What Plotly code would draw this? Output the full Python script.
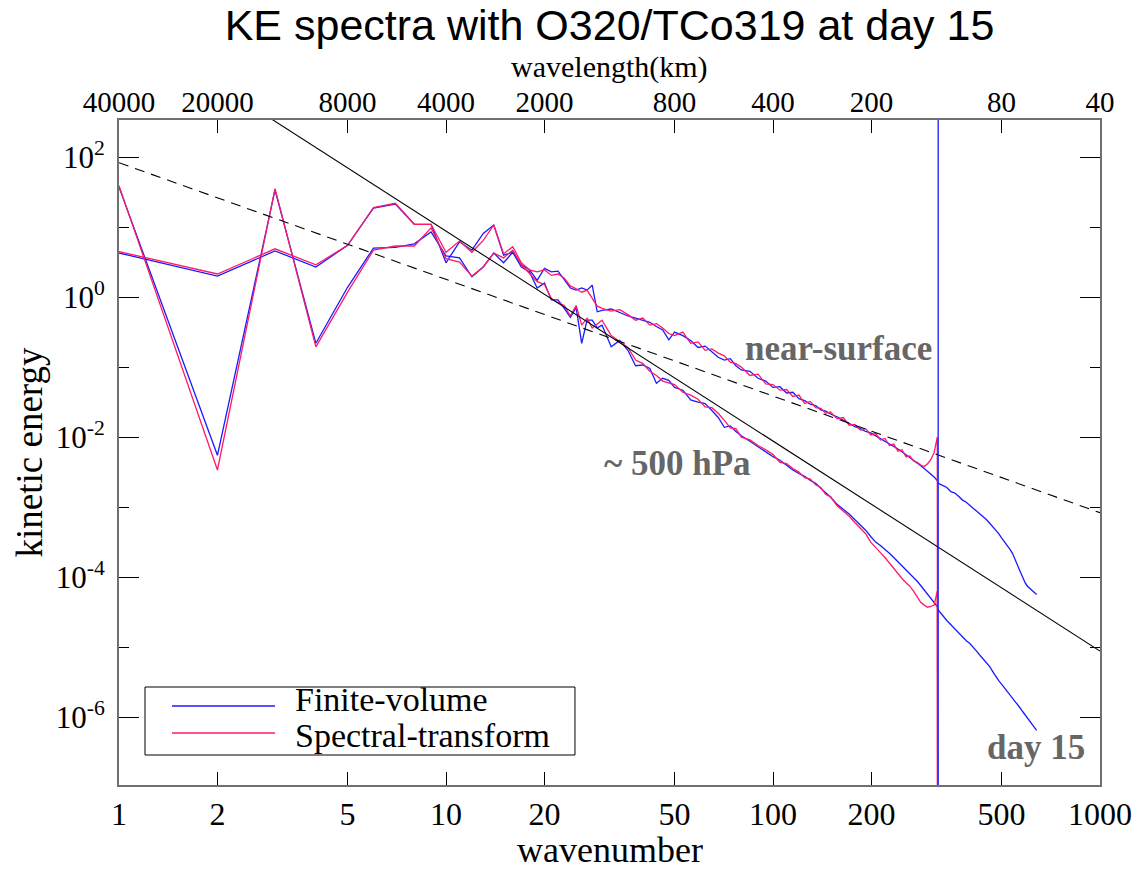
import numpy as np
import plotly.graph_objects as go

# ---------------- data (energies as log10) ----------------
k_main = [1, 2, 3, 4, 5, 6, 7, 8, 9, 10,
          11, 12, 13, 14, 15, 16, 17, 18, 19, 20,
          21, 22, 23, 24, 25, 26, 27, 28, 29, 30,
          32, 34, 36, 38, 40, 42, 44, 46, 48, 50,
          53, 56, 59, 62, 65, 68, 71, 74, 77, 80,
          85, 90, 95, 100, 105, 110, 115, 120, 125, 130, 135, 140, 145, 150,
          157, 164, 171, 178, 185, 192, 199, 206, 213, 220, 227, 234, 241, 248,
          255, 262, 269, 276, 283, 290, 297, 304, 311, 318]

k_fv_tail = [320, 330, 340, 350, 360, 370, 380, 390, 400, 410, 420,
             430, 440, 450, 460, 470, 480, 490, 500, 510, 520, 530,
             540, 550, 560, 570, 580, 590, 600, 610, 620, 630, 640]

# near-surface, finite-volume
near_fv_log10 = [0.63, 0.30, 0.66, 0.43, 0.74, 1.27, 1.33, 1.04, 1.04, 0.49,
                 0.79, 0.67, 0.91, 1.03, 0.60, 0.64, 0.46, 0.39, 0.24, 0.41,
                 0.36, 0.37, 0.25, 0.13, 0.10, 0.13, 0.10, 0.17, -0.21, -0.19,
                 -0.17, -0.22, -0.27, -0.30, -0.33, -0.36, -0.42, -0.47, -0.61, -0.50,
                 -0.55, -0.62, -0.72, -0.70, -0.78, -0.86, -0.90, -0.88, -0.98, -1.04,
                 -1.06, -1.16, -1.20, -1.29, -1.28, -1.37, -1.36, -1.45, -1.48, -1.53, -1.55, -1.61, -1.63, -1.67,
                 -1.71, -1.76, -1.80, -1.85, -1.88, -1.92, -1.94, -1.98, -2.02, -2.06, -2.09, -2.13, -2.17, -2.21,
                 -2.25, -2.29, -2.33, -2.37, -2.41, -2.45, -2.49, -2.53, -2.57, -2.62]
near_fv_tail_log10 = [-2.66, -2.69, -2.72, -2.78, -2.80, -2.85, -2.90, -2.93, -2.98, -3.02, -3.06,
                      -3.10, -3.14, -3.18, -3.23, -3.28, -3.33, -3.38, -3.44, -3.49, -3.55, -3.60,
                      -3.66, -3.74, -3.83, -3.92, -4.00, -4.08, -4.13, -4.16, -4.19, -4.22, -4.25]

# near-surface, spectral-transform
near_st_log10 = [0.65, 0.33, 0.69, 0.46, 0.74, 1.28, 1.34, 1.04, 1.04, 0.64,
                 0.80, 0.64, 0.81, 1.03, 0.62, 0.72, 0.49, 0.39, 0.36, 0.39,
                 0.31, 0.33, 0.27, 0.16, 0.12, 0.07, 0.10, -0.01, -0.13, -0.16,
                 -0.20, -0.18, -0.25, -0.33, -0.30, -0.40, -0.38, -0.44, -0.52, -0.55,
                 -0.50, -0.66, -0.64, -0.76, -0.74, -0.80, -0.84, -0.93, -0.95, -1.00,
                 -1.12, -1.10, -1.24, -1.25, -1.33, -1.32, -1.42, -1.40, -1.52, -1.49, -1.58, -1.59, -1.66, -1.64,
                 -1.74, -1.72, -1.83, -1.82, -1.90, -1.88, -1.97, -1.95, -2.04, -2.02, -2.12, -2.10, -2.20, -2.18,
                 -2.28, -2.27, -2.34, -2.36, -2.40, -2.42, -2.38, -2.32, -2.22, -2.00]

# ~500 hPa, finite-volume
mid_fv_log10 = [1.57, -2.26, 1.53, -0.66, 0.14, 0.70, 0.71, 0.76, 0.93, 0.59,
                0.56, 0.29, 0.43, 0.63, 0.49, 0.64, 0.43, 0.36, 0.13, 0.20,
                -0.04, -0.04, -0.16, -0.29, -0.15, -0.66, -0.33, -0.33, -0.44, -0.40,
                -0.71, -0.62, -0.76, -0.98, -0.97, -1.02, -1.23, -1.16, -1.19, -1.29,
                -1.33, -1.47, -1.50, -1.52, -1.62, -1.72, -1.86, -1.84, -1.92, -1.98,
                -2.06, -2.14, -2.21, -2.28, -2.33, -2.40, -2.47, -2.52, -2.56, -2.62, -2.66, -2.73, -2.79, -2.86,
                -2.96, -3.03, -3.10, -3.18, -3.25, -3.33, -3.42, -3.50, -3.55, -3.60, -3.66, -3.72, -3.78, -3.84,
                -3.89, -3.94, -4.00, -4.06, -4.12, -4.18, -4.24, -4.30, -4.36, -4.42]
mid_fv_tail_log10 = [-4.47, -4.55, -4.62, -4.68, -4.74, -4.80, -4.86, -4.91, -4.95, -5.00, -5.06,
                     -5.12, -5.17, -5.22, -5.28, -5.35, -5.42, -5.48, -5.53, -5.58, -5.63, -5.68,
                     -5.72, -5.77, -5.82, -5.87, -5.92, -5.97, -6.02, -6.06, -6.10, -6.15, -6.19]

# ~500 hPa, spectral-transform
mid_st_log10 = [1.59, -2.47, 1.55, -0.71, 0.07, 0.67, 0.73, 0.73, 0.99, 0.55,
                0.50, 0.30, 0.43, 0.63, 0.56, 0.67, 0.46, 0.34, 0.22, 0.18,
                -0.02, -0.08, -0.12, -0.27, -0.12, -0.40, -0.30, -0.44, -0.38, -0.33,
                -0.55, -0.64, -0.72, -0.90, -0.95, -1.06, -1.12, -1.20, -1.23, -1.25,
                -1.36, -1.40, -1.46, -1.57, -1.58, -1.66, -1.76, -1.87, -1.88, -2.00,
                -2.04, -2.12, -2.18, -2.25, -2.36, -2.38, -2.45, -2.50, -2.58, -2.60, -2.68, -2.72, -2.82, -2.85,
                -2.98, -3.05, -3.13, -3.22, -3.30, -3.38, -3.50, -3.57, -3.65, -3.72, -3.80, -3.88, -3.95, -4.02,
                -4.08, -4.13, -4.20, -4.28, -4.36, -4.40, -4.43, -4.42, -4.40, -4.20]

# spectral-transform truncation (spectrum drops to ~0 past its last wavenumber)
st_trunc_k = 319
st_trunc_log10 = -12.0
fv_trunc_k = 320

# reference power laws
ref_k = [1, 1000]
k3_log10_coef = 3.943      # E = C k^-3
k53_log10_coef = 1.92      # E = C k^-5/3

bottom_ticks = [1, 2, 5, 10, 20, 50, 100, 200, 500, 1000]
bottom_labels = ["1", "2", "5", "10", "20", "50", "100", "200", "500", "1000"]
top_labels = ["40000", "20000", "8000", "4000", "2000", "800", "400", "200", "80", "40"]
y_major = [1e2, 1e0, 1e-2, 1e-4, 1e-6]
y_major_labels = ["10<sup>2</sup>", "10<sup>0</sup>", "10<sup>-2</sup>", "10<sup>-4</sup>", "10<sup>-6</sup>"]
y_minor = [1e1, 1e-1, 1e-3, 1e-5]

BLUE = "#1a1aff"
RED = "#ff1a66"
SERIF = "Liberation Serif"

# plot-area geometry (pixels) used to place paper-referenced texts
PX_TOP, PX_BOTTOM = 120, 785


def py(ypix):
    return (PX_BOTTOM - ypix) / (PX_BOTTOM - PX_TOP)


def to_e(lst):
    return list(10 ** np.array(lst, dtype=float))


fig = go.Figure()

kfv = k_main + k_fv_tail
kst = k_main + [st_trunc_k]

fig.add_trace(go.Scatter(x=kfv, y=to_e(near_fv_log10 + near_fv_tail_log10), mode="lines",
                         line=dict(color=BLUE, width=1.3), name="Finite-volume", showlegend=False))
fig.add_trace(go.Scatter(x=kfv, y=to_e(mid_fv_log10 + mid_fv_tail_log10), mode="lines",
                         line=dict(color=BLUE, width=1.3), name="Finite-volume", showlegend=False))
fig.add_trace(go.Scatter(x=kst, y=to_e(near_st_log10 + [st_trunc_log10]), mode="lines",
                         line=dict(color=RED, width=1.3), name="Spectral-transform", showlegend=False))
fig.add_trace(go.Scatter(x=kst, y=to_e(mid_st_log10 + [st_trunc_log10]), mode="lines",
                         line=dict(color=RED, width=1.3), name="Spectral-transform", showlegend=False))

rk = np.array(ref_k, dtype=float)
fig.add_trace(go.Scatter(x=ref_k, y=list(10 ** (k3_log10_coef - 3 * np.log10(rk))), mode="lines",
                         line=dict(color="black", width=1.1), showlegend=False, hoverinfo="skip"))
fig.add_trace(go.Scatter(x=ref_k, y=list(10 ** (k53_log10_coef - 5 / 3 * np.log10(rk))), mode="lines",
                         line=dict(color="black", width=1.1, dash="10px,7px"), showlegend=False, hoverinfo="skip"))
# top (wavelength) axis carrier
fig.add_trace(go.Scatter(x=[], y=[], xaxis="x2", showlegend=False))

# truncation marker
fig.add_shape(type="line", xref="x", yref="paper", x0=fv_trunc_k, x1=fv_trunc_k, y0=0, y1=1,
              line=dict(color=BLUE, width=1.3), layer="above")

# legend drawn as a box
fig.add_shape(type="rect", xref="paper", yref="paper", x0=0.0265, x1=0.4648, y0=py(755), y1=py(687),
              line=dict(color="black", width=1), fillcolor="white", layer="above")
fig.add_shape(type="line", xref="paper", yref="paper", x0=0.054, x1=0.159, y0=py(706), y1=py(706),
              line=dict(color=BLUE, width=1.3), layer="above")
fig.add_shape(type="line", xref="paper", yref="paper", x0=0.054, x1=0.159, y0=py(733), y1=py(733),
              line=dict(color=RED, width=1.3), layer="above")
leg_font = dict(family=SERIF, size=34, color="black")
fig.add_annotation(xref="paper", yref="paper", x=0.1774, y=py(699), text="Finite-volume",
                   showarrow=False, xanchor="left", yanchor="middle", font=leg_font)
fig.add_annotation(xref="paper", yref="paper", x=0.1774, y=py(735), text="Spectral-transform",
                   showarrow=False, xanchor="left", yanchor="middle", font=leg_font)

lab_font = dict(family=SERIF, size=35, color="#666666")
fig.add_annotation(x=2.199, y=-0.729, xref="x", yref="y", text="<b>near-surface</b>", showarrow=False, font=lab_font)
fig.add_annotation(x=1.709, y=-2.371, xref="x", yref="y", text="<b>~ 500 hPa</b>", showarrow=False, font=lab_font)
fig.add_annotation(x=2.804, y=-6.43, xref="x", yref="y", text="<b>day 15</b>", showarrow=False, font=lab_font)

# axis titles
fig.add_annotation(xref="paper", yref="paper", x=0.5, y=py(850), text="wavenumber", showarrow=False,
                   xanchor="center", yanchor="middle", font=dict(family=SERIF, size=36, color="black"))
fig.add_annotation(xref="paper", yref="paper", x=0.5, y=py(67), text="wavelength(km)", showarrow=False,
                   xanchor="center", yanchor="middle", font=dict(family=SERIF, size=30, color="black"))

axis_line = "#707070"
fig.update_layout(
    width=1137, height=870,
    margin=dict(l=119, r=37, t=120, b=85),
    paper_bgcolor="white", plot_bgcolor="white",
    title=dict(text="KE spectra with O320/TCo319 at day 15", x=0.5, xref="paper", xanchor="center",
               y=1 - 25 / 870, yref="container", yanchor="middle",
               font=dict(family="Liberation Sans", size=43, color="black")),
    xaxis=dict(type="log", range=[0, 3], tickmode="array", tickvals=bottom_ticks, ticktext=bottom_labels,
               ticks="inside", ticklen=13, tickwidth=1.2, tickcolor="black",
               showline=True, linecolor=axis_line, linewidth=2, mirror="ticks",
               showgrid=False, zeroline=False, ticklabelstandoff=0, automargin=False,
               tickfont=dict(family=SERIF, size=32, color="black")),
    xaxis2=dict(type="log", range=[0, 3], overlaying="x", side="top", anchor="y",
                tickmode="array", tickvals=bottom_ticks, ticktext=top_labels,
                ticks="", showline=False, showgrid=False, zeroline=False, automargin=False,
                ticklabelstandoff=1,
                tickfont=dict(family=SERIF, size=29, color="black")),
    yaxis=dict(type="log", range=[-6.97, 2.53], tickmode="array", tickvals=y_major, ticktext=y_major_labels,
               ticks="inside", ticklen=20, tickwidth=1.2, tickcolor="black",
               minor=dict(tickmode="array", tickvals=y_minor, ticks="inside", ticklen=10, tickcolor="black", tickwidth=1.2),
               showline=True, linecolor=axis_line, linewidth=2, mirror="ticks",
               showgrid=False, zeroline=False, ticklabelstandoff=6, automargin=False,
               tickfont=dict(family=SERIF, size=31, color="black"),
               title=dict(text="kinetic energy", font=dict(family=SERIF, size=37, color="black"), standoff=2)),
    showlegend=False,
)

fig.write_html("out.html")
